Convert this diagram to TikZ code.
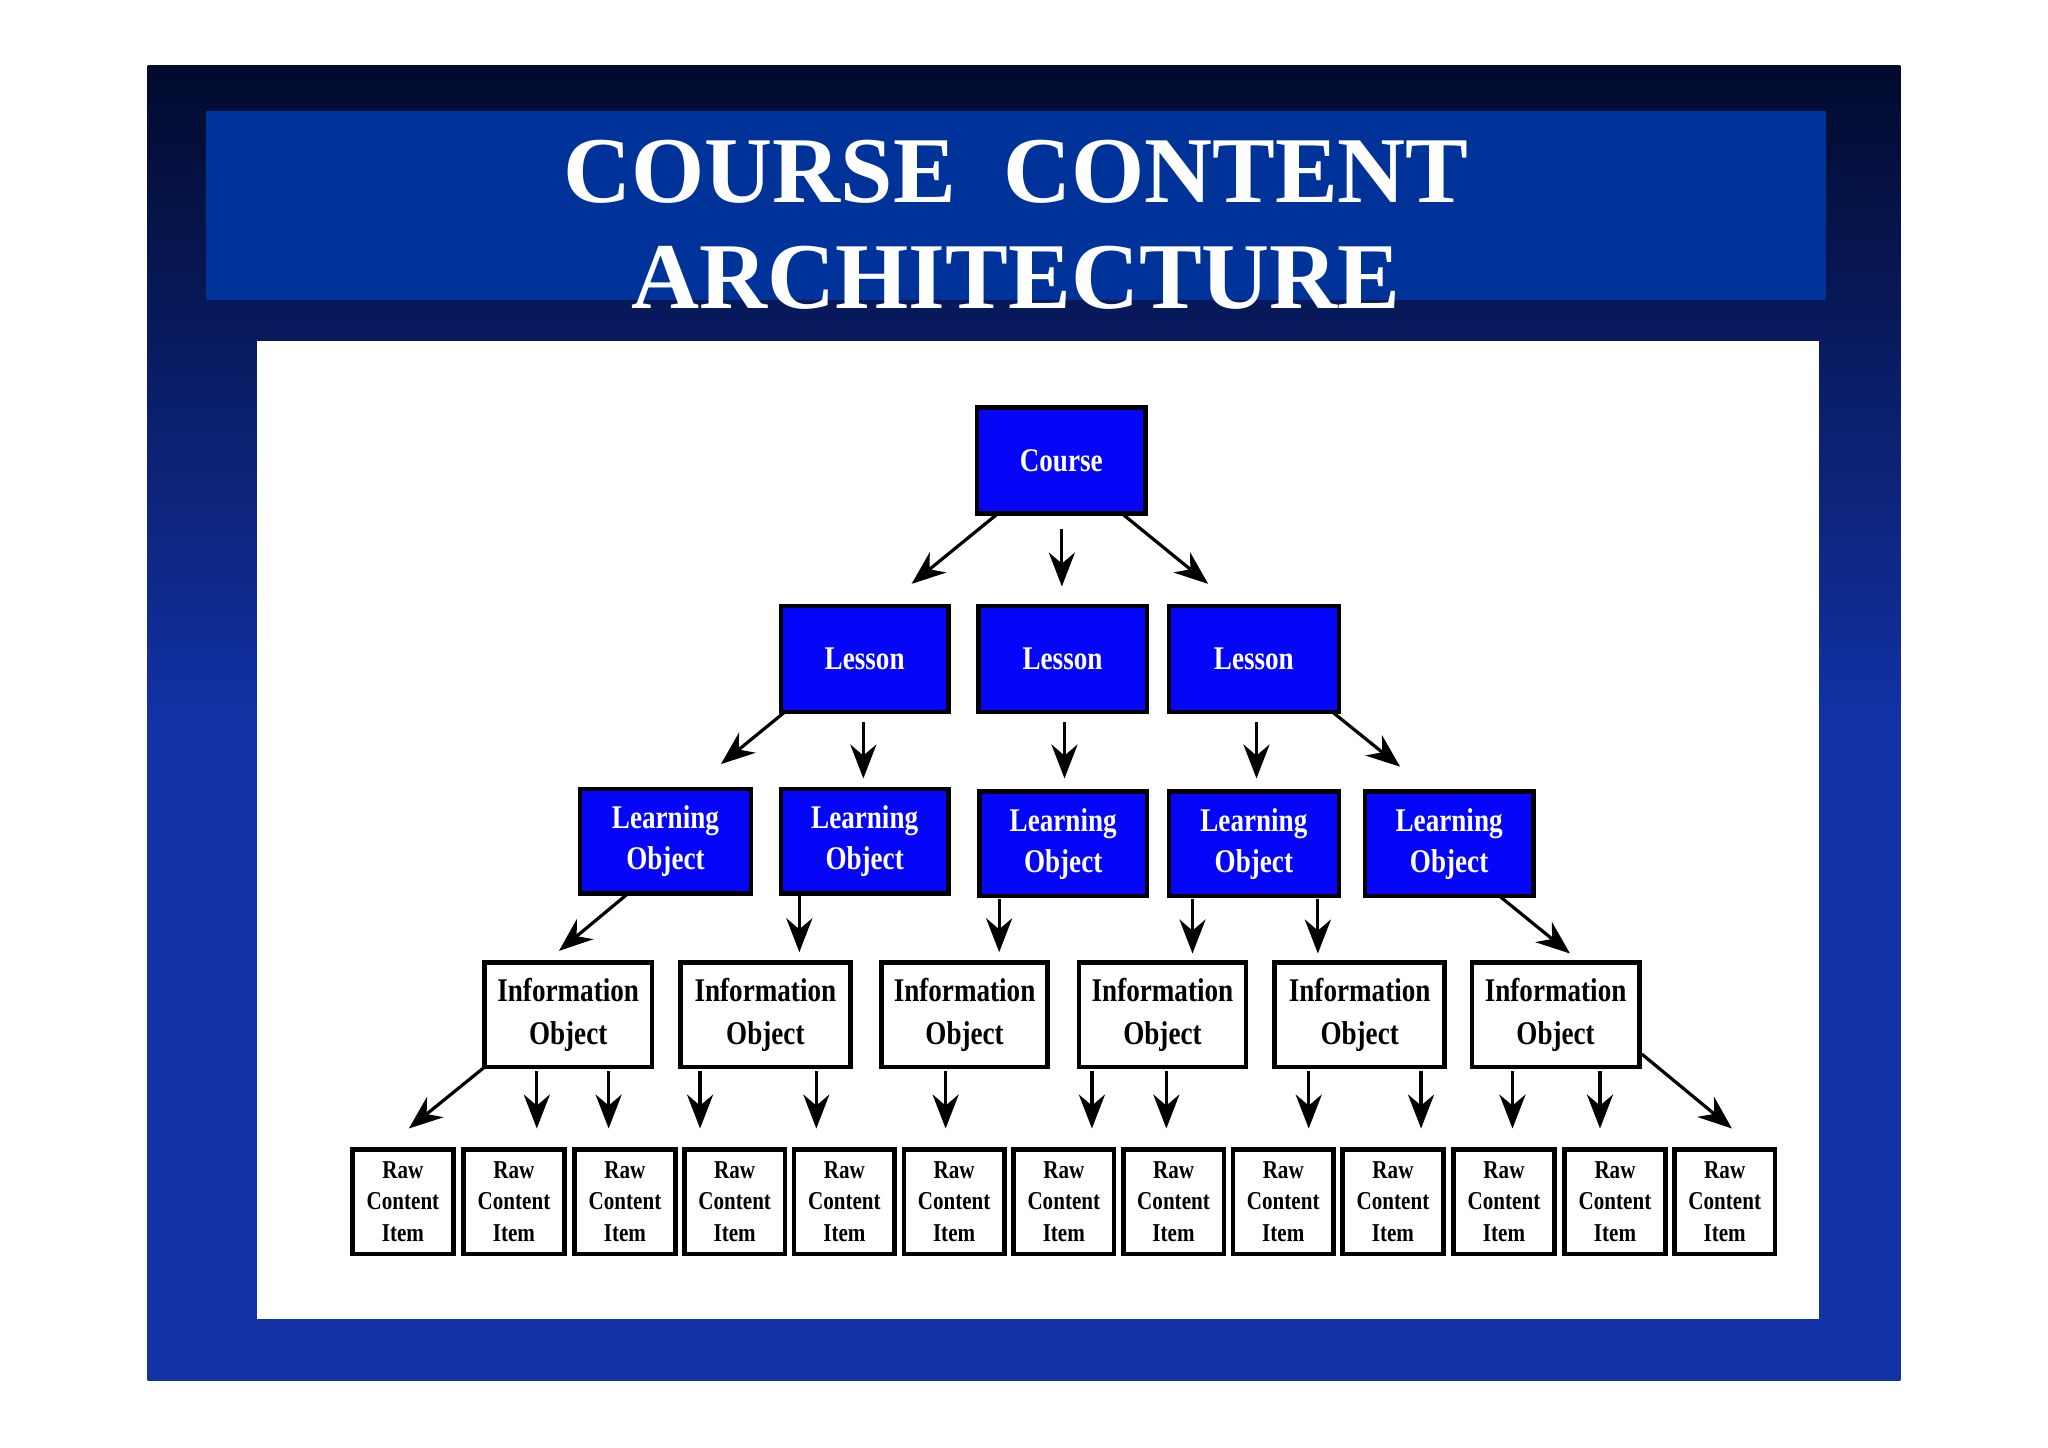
\documentclass[tikz,border=0pt]{standalone}
\usepackage{fontspec}
\setmainfont{Liberation Serif}
\newfontfamily\boxfont[FakeStretch=0.82]{Liberation Serif}
\usetikzlibrary{arrows.meta}
\definecolor{slidetop}{RGB}{2,10,45}
\definecolor{slidebot}{RGB}{18,50,165}
\definecolor{band}{RGB}{0,51,153}
\definecolor{boxblue}{RGB}{5,5,250}
\tikzset{
 bluebox/.style={draw=black,line width=1pt,fill=boxblue,text=white,font=\boxfont\bfseries\fontsize{7.2}{9}\selectfont,align=center,inner sep=0pt},
 infobox/.style={draw=black,line width=1pt,fill=white,font=\boxfont\bfseries\fontsize{7.2}{9.4}\selectfont,align=center,inner sep=0pt},
 rawbox/.style={draw=black,line width=1pt,fill=white,font=\boxfont\bfseries\fontsize{5.6}{6.9}\selectfont,align=center,inner sep=0pt},
 arr/.style={-{Stealth[length=2.6mm,width=2mm]},line width=0.7pt}
}
\newcommand\bx[7]{\node[#6,minimum width={(#4-#2)*0.1mm},minimum height={(#5-#3)*0.1mm}] (#1) at ({(#2+#4)/2},{(#3+#5)/2}) {#7};}
\begin{document}
\begin{tikzpicture}[x=0.01cm,y=-0.01cm]
\useasboundingbox (0,0) rectangle (1568,1108);
\fill[white] (0,0) rectangle (1568,1108);
\shade[top color=slidetop,bottom color=slidebot,middle color=slidebot] (113,50) rectangle (1455,1057);
\fill[band] (158,85) rectangle (1398,230);
\node[text=white,font=\bfseries\fontsize{20.5}{23}\selectfont,align=center] (title) at (778,172) {COURSE\ \ CONTENT\\ARCHITECTURE};
\fill[white] (197,261) rectangle (1393,1010);
\bx{course}{748}{312}{877}{393}{bluebox}{Course}
\bx{l1}{598}{464}{726}{545}{bluebox}{Lesson}
\bx{l2}{749}{464}{878}{545}{bluebox}{Lesson}
\bx{l3}{895}{464}{1025}{545}{bluebox}{Lesson}
\bx{lo1}{444}{604}{575}{684}{bluebox}{Learning\\Object}
\bx{lo2}{598}{604}{726}{684}{bluebox}{Learning\\Object}
\bx{lo3}{750}{606}{878}{686}{bluebox}{Learning\\Object}
\bx{lo4}{895}{606}{1025}{686}{bluebox}{Learning\\Object}
\bx{lo5}{1045}{606}{1174}{686}{bluebox}{Learning\\Object}
\bx{io1}{371}{737}{499}{817}{infobox}{Information\\Object}
\bx{io2}{521}{737}{651}{817}{infobox}{Information\\Object}
\bx{io3}{675}{737}{802}{817}{infobox}{Information\\Object}
\bx{io4}{826}{737}{954}{817}{infobox}{Information\\Object}
\bx{io5}{976}{737}{1106}{817}{infobox}{Information\\Object}
\bx{io6}{1127}{737}{1255}{817}{infobox}{Information\\Object}
\foreach \x [count=\i] in {270,355,440,524,608,692,776,860,944,1028,1113,1198,1282}{
 \bx{r\i}{\x}{880}{\x+77}{960}{rawbox}{Raw\\Content\\Item}
}
\foreach \a/\b/\c/\d in {763/394/698/447, 813/405/813/449, 860/394/925/447,
 601/545/552/585, 661/553/661/596, 815/553/815/596, 962/553/962/596, 1020/545/1072/587,
 481/684/428/728, 612/686/612/729, 765/688/765/729, 913/688/913/730, 1009/688/1009/730, 1148/686/1202/730,
 371/817/313/864, 411/820/411/864, 466/820/466/864, 536/820/536/864, 625/820/625/864, 724/820/724/864,
 836/820/836/864, 893/820/893/864, 1002/820/1002/864, 1088/820/1088/864, 1158/820/1158/864, 1225/820/1225/864, 1257/807/1326/864}
 \draw[arr] (\a,\b) -- (\c,\d);
\end{tikzpicture}
\end{document}
